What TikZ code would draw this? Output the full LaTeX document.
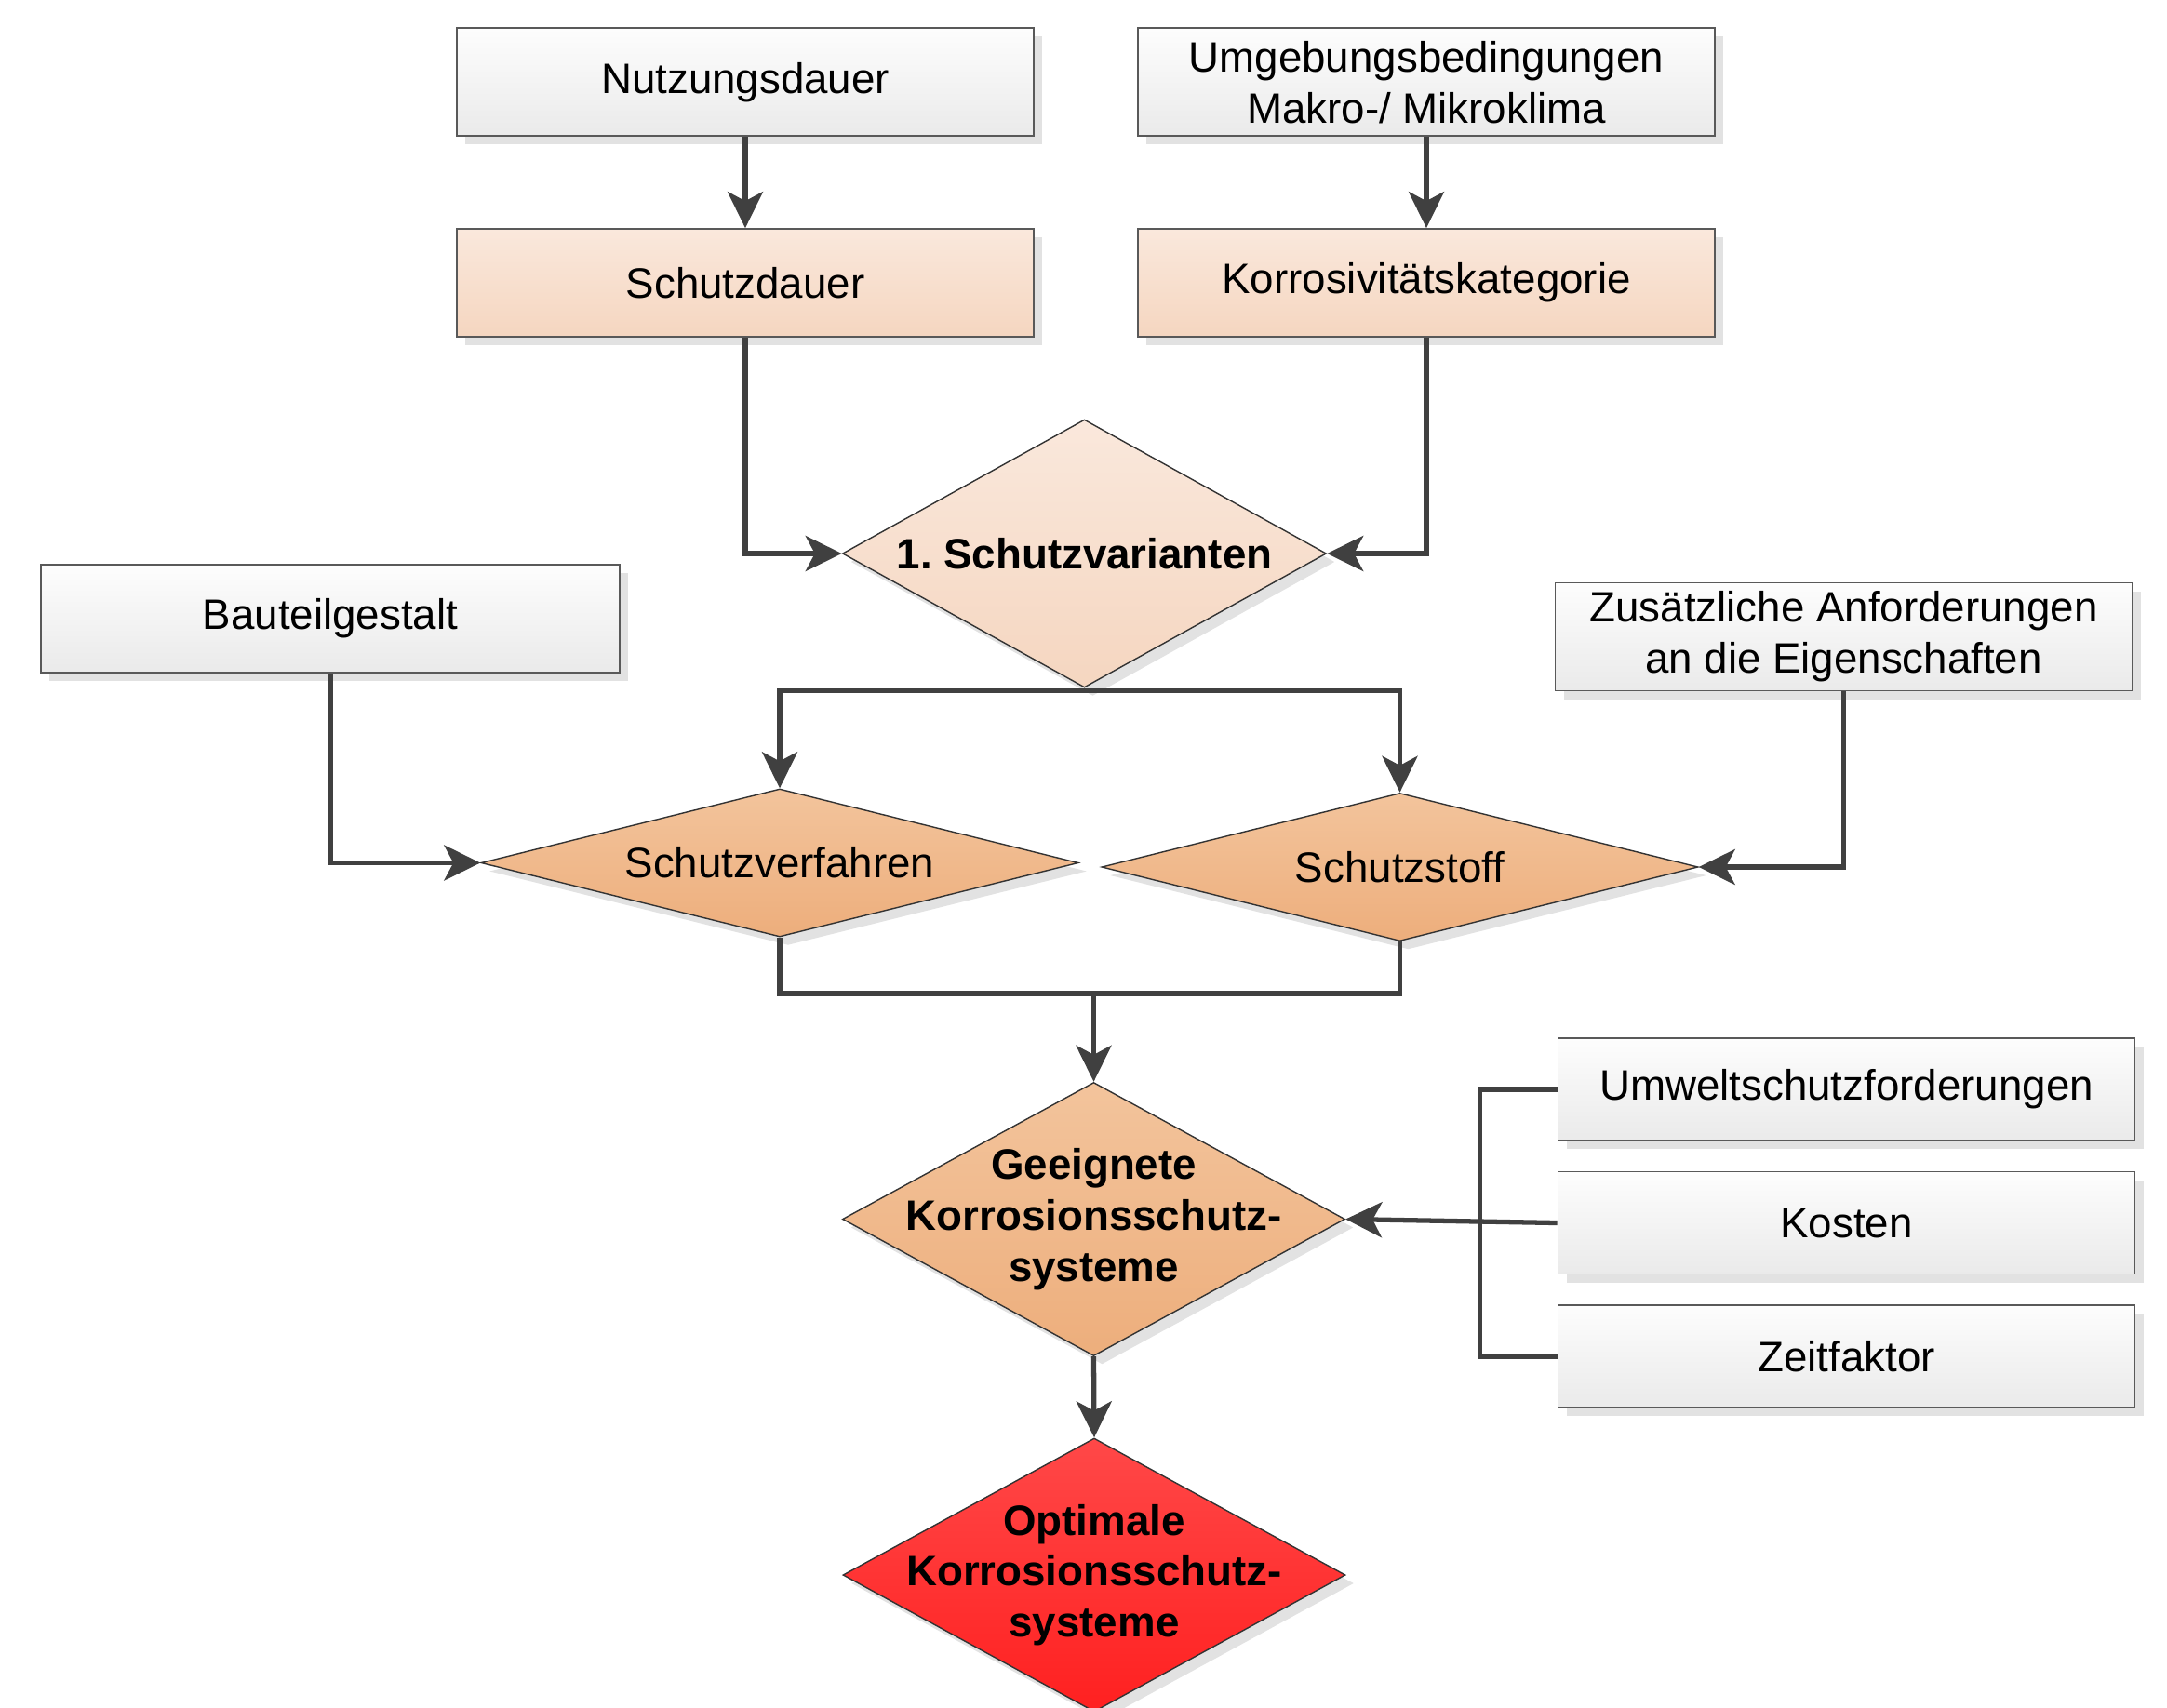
\documentclass[tikz,border=0pt]{standalone}
\usepackage{fontspec}
\setmainfont{Liberation Sans}
\usetikzlibrary{arrows.meta,shapes.geometric,shadows}
\definecolor{boxtop}{RGB}{253,253,253}
\definecolor{boxbot}{RGB}{234,234,234}
\definecolor{peachtop}{RGB}{250,232,220}
\definecolor{peachbot}{RGB}{245,214,192}
\definecolor{orangetop}{RGB}{243,196,156}
\definecolor{orangebot}{RGB}{237,174,124}
\definecolor{redtop}{RGB}{255,72,72}
\definecolor{redbot}{RGB}{255,32,32}
\definecolor{linegray}{RGB}{64,64,64}
\definecolor{shadowgray}{RGB}{226,226,226}
\frenchspacing

\begin{document}
\begin{tikzpicture}[
  font=\fontsize{13}{15.6}\selectfont,
  softshadow/.style={drop shadow={shadow xshift=0.9mm,shadow yshift=-0.9mm,fill=shadowgray,opacity=1}},
  infobox/.style={draw=black!65,line width=0.5pt,top color=boxtop,bottom color=boxbot,minimum width=6.2cm,minimum height=1.16cm,align=center,inner sep=0pt,softshadow},
  levelbox/.style={infobox,top color=peachtop,bottom color=peachbot},
  decision/.style={diamond,draw=black!80,line width=0.4pt,inner sep=0pt,softshadow},
  dectext/.style={align=center},
  boldtext/.style={align=center,font=\fontsize{13}{15.6}\selectfont\bfseries},
  conn/.style={-{Stealth[length=3.9mm,width=3.8mm,inset=1mm]},line width=1.5pt,draw=linegray},
  wire/.style={line width=1.5pt,draw=linegray}
]
  \useasboundingbox (0,0) rectangle (23.29,-18.35);

  % Eingangsgroessen
  \node[infobox] (nutz) at (8.01,-0.883) {Nutzungsdauer};
  \node[infobox] (umg) at (15.33,-0.883) {Umgebungsbedingungen\\Makro-/ Mikroklima};
  \node[levelbox] (schutzd) at (8.01,-3.04) {Schutzdauer};
  \node[levelbox] (korr) at (15.33,-3.04) {Korrosivitätskategorie};
  \node[infobox,minimum width=6.22cm] (bauteil) at (3.55,-6.65) {Bauteilgestalt};
  \node[infobox] (zus) at (19.815,-6.845) {Zusätzliche Anforderungen\\an die Eigenschaften};
  \node[infobox,minimum height=1.1cm] (umwelt) at (19.845,-11.71) {Umweltschutzforderungen};
  \node[infobox,minimum height=1.1cm] (kosten) at (19.845,-13.145) {Kosten};
  \node[infobox,minimum height=1.1cm] (zeit) at (19.845,-14.58) {Zeitfaktor};

  % Entscheidungen
  \node[decision,top color=peachtop,bottom color=peachbot,minimum width=5.2cm,minimum height=2.88cm,
    label={[boldtext]center:1. Schutzvarianten}] (var) at (11.655,-5.95) {};
  \node[decision,top color=orangetop,bottom color=orangebot,minimum width=6.42cm,minimum height=1.59cm,
    label={[dectext]center:Schutzverfahren}] (verf) at (8.38,-9.275) {};
  \node[decision,top color=orangetop,bottom color=orangebot,minimum width=6.41cm,minimum height=1.59cm,
    label={[dectext]center:Schutzstoff}] (stoff) at (15.045,-9.32) {};
  \node[decision,top color=orangetop,bottom color=orangebot,minimum width=5.4cm,minimum height=2.94cm,
    label={[boldtext]center:Geeignete\\Korrosionsschutz-\\systeme}] (geeig) at (11.755,-13.105) {};
  \node[decision,top color=redtop,bottom color=redbot,minimum width=5.4cm,minimum height=2.94cm,
    label={[boldtext]center:Optimale\\Korrosionsschutz-\\systeme}] (opt) at (11.76,-16.93) {};

  \coordinate (split) at ([yshift=-0.03cm]var.south);
  \coordinate (merge) at (geeig.north |- 0,-10.68);

  % Verbindungen
  \draw[conn] (nutz.south) -- (schutzd.north);
  \draw[conn] (umg.south) -- (korr.north);
  \draw[conn] (schutzd.south) |- (var.west);
  \draw[conn] (korr.south) |- (var.east);
  \draw[conn] (split) -| (verf.north);
  \draw[conn] (split) -| (stoff.north);
  \draw[conn] (bauteil.south) |- (verf.west);
  \draw[conn] (zus.south) |- (stoff.east);
  \draw[wire] (verf.south) |- (merge) -| (stoff.south);
  \draw[conn] (merge) -- (geeig.north);
  \draw[wire] (umwelt.west) -- ++(-0.83,0) |- (zeit.west);
  \draw[conn] (kosten.west) -- (geeig.east);
  \draw[conn] (geeig.south) -- (opt.north);
\end{tikzpicture}
\end{document}
